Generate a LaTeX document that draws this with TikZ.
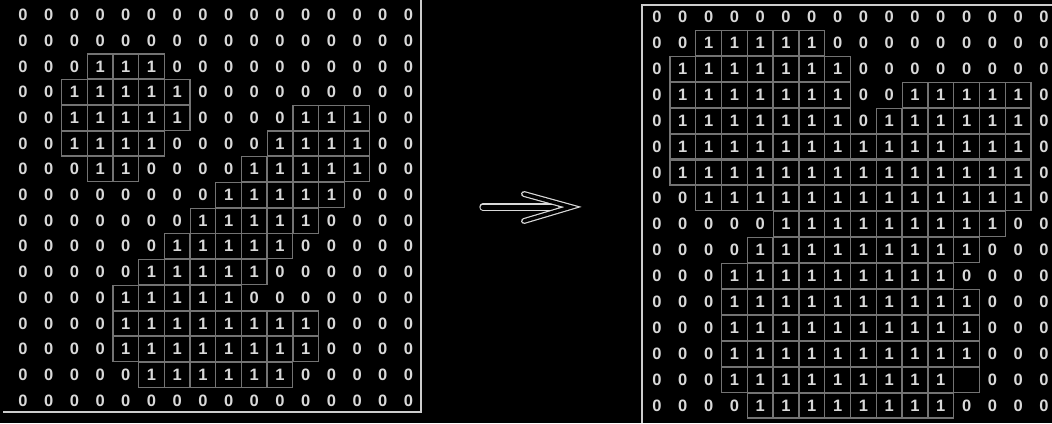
\documentclass[tikz,border=0pt]{standalone}
\usepackage{fontspec}
\setsansfont{Liberation Sans}
\usetikzlibrary{arrows.meta}

\begin{document}
\begin{tikzpicture}[x=1pt, y=-1pt,
    zero/.style = {text=white!85!black, font=\sffamily\bfseries\fontsize{16.5}{16.5}\selectfont, inner sep=0pt},
    one/.style = {zero, draw=white!45!black, line width=1.2pt, minimum width=25.5pt, minimum height=25pt},
    cell0/.style = {zero, node contents=0},
    cell1/.style = {one, node contents=1},
    cell2/.style = {one, node contents={}},
    frame/.style = {draw=white!80!black, line width=1.5pt},
    outline/.style = {draw=white!85!black, double=black, line width=1.2pt, line cap=round},
    shaft/.style = {outline, double distance=5pt},
    head/.style = {outline, double distance=3.5pt, line join=miter}]
  \fill[black] (0,0) rectangle (1052,423);
  \useasboundingbox (0,0) rectangle (1052,423);

  % input image
  \foreach \bits [count=\r from 0] in {
      {0,0,0,0,0,0,0,0,0,0,0,0,0,0,0,0},
      {0,0,0,0,0,0,0,0,0,0,0,0,0,0,0,0},
      {0,0,0,1,1,1,0,0,0,0,0,0,0,0,0,0},
      {0,0,1,1,1,1,1,0,0,0,0,0,0,0,0,0},
      {0,0,1,1,1,1,1,0,0,0,0,1,1,1,0,0},
      {0,0,1,1,1,1,0,0,0,0,1,1,1,1,0,0},
      {0,0,0,1,1,0,0,0,0,1,1,1,1,1,0,0},
      {0,0,0,0,0,0,0,0,1,1,1,1,1,0,0,0},
      {0,0,0,0,0,0,0,1,1,1,1,1,0,0,0,0},
      {0,0,0,0,0,0,1,1,1,1,1,0,0,0,0,0},
      {0,0,0,0,0,1,1,1,1,1,0,0,0,0,0,0},
      {0,0,0,0,1,1,1,1,1,0,0,0,0,0,0,0},
      {0,0,0,0,1,1,1,1,1,1,1,1,0,0,0,0},
      {0,0,0,0,1,1,1,1,1,1,1,1,0,0,0,0},
      {0,0,0,0,0,1,1,1,1,1,1,0,0,0,0,0},
      {0,0,0,0,0,0,0,0,0,0,0,0,0,0,0,0}}{
    \foreach \b [count=\c from 0] in \bits
      \node (L-\r-\c) at ({23+25.7*\c}, {15+25.7*\r}) [cell\b];
  }
  \draw[frame] (3,412) -- (421,412) -- (421,0);

  % dilated image
  \foreach \bits [count=\r from 0] in {
      {0,0,0,0,0,0,0,0,0,0,0,0,0,0,0,0},
      {0,0,1,1,1,1,1,0,0,0,0,0,0,0,0,0},
      {0,1,1,1,1,1,1,1,0,0,0,0,0,0,0,0},
      {0,1,1,1,1,1,1,1,0,0,1,1,1,1,1,0},
      {0,1,1,1,1,1,1,1,0,1,1,1,1,1,1,0},
      {0,1,1,1,1,1,1,1,1,1,1,1,1,1,1,0},
      {0,1,1,1,1,1,1,1,1,1,1,1,1,1,1,0},
      {0,0,1,1,1,1,1,1,1,1,1,1,1,1,1,0},
      {0,0,0,0,0,1,1,1,1,1,1,1,1,1,0,0},
      {0,0,0,0,1,1,1,1,1,1,1,1,1,0,0,0},
      {0,0,0,1,1,1,1,1,1,1,1,1,0,0,0,0},
      {0,0,0,1,1,1,1,1,1,1,1,1,1,0,0,0},
      {0,0,0,1,1,1,1,1,1,1,1,1,1,0,0,0},
      {0,0,0,1,1,1,1,1,1,1,1,1,1,0,0,0},
      {0,0,0,1,1,1,1,1,1,1,1,1,2,0,0,0},
      {0,0,0,0,1,1,1,1,1,1,1,1,0,0,0,0}}{
    \foreach \b [count=\c from 0] in \bits
      \node (R-\r-\c) at ({657+25.8*\c}, {17+25.9*\r}) [cell\b];
  }
  \draw[frame] (642,423) -- (642,5) -- (1052,5);

  % the arrow
  \coordinate (arrL) at (483,207);
  \coordinate (arrM) at (556,207);
  \coordinate (arrR) at (571,207);
  \coordinate (arrT) at (524,194);
  \coordinate (arrB) at (524,221);
  \draw[shaft] (arrL) -- (arrM);
  \draw[head] (arrT) -- (arrR) -- (arrB);
\end{tikzpicture}
\end{document}
